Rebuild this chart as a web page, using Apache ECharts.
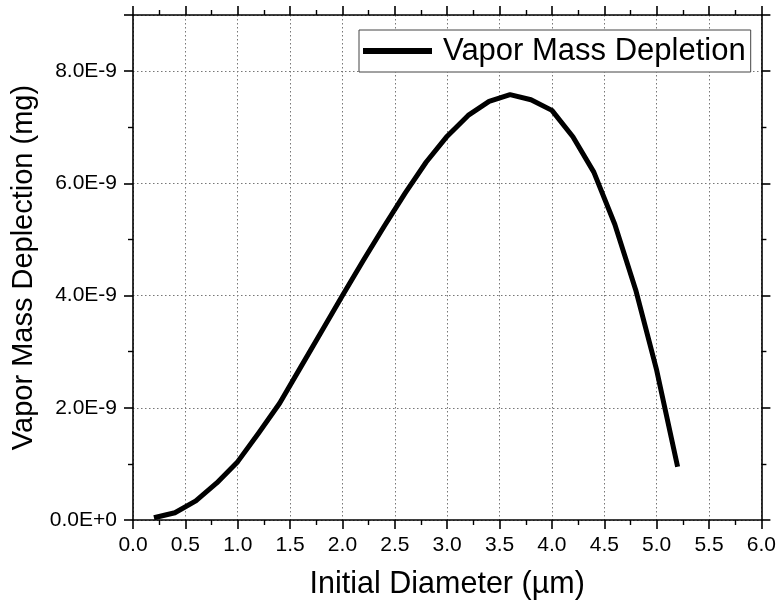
<!DOCTYPE html>
<html>
<head>
<meta charset="utf-8">
<script src="https://cdn.jsdelivr.net/npm/echarts@6/dist/echarts.min.js"></script>
<style>html,body{margin:0;padding:0;background:#fff;}#chart{width:779px;height:610px;}</style>
</head>
<body>
<div id="chart"></div>
<script>
// Data (y values in units of 1E-9 mg)
const xValues = [0.2,0.4,0.6,0.8,1.0,1.2,1.4,1.6,1.8,2.0,2.2,2.4,2.6,2.8,3.0,3.2,3.4,3.6,3.8,4.0,4.2,4.4,4.6,4.8,5.0,5.2];
const yValuesE9 = [0.04,0.13,0.34,0.66,1.04,1.55,2.08,2.72,3.36,4.0,4.63,5.24,5.83,6.38,6.84,7.21,7.46,7.58,7.49,7.30,6.83,6.20,5.27,4.10,2.67,0.95];
const xTickLabels = ['0.0','0.5','1.0','1.5','2.0','2.5','3.0','3.5','4.0','4.5','5.0','5.5','6.0'];
const yTickLabels = ['0.0E+0','2.0E-9','4.0E-9','6.0E-9','8.0E-9'];
const seriesName = 'Vapor Mass Depletion';

const FONT = 'Arial, "Liberation Sans", sans-serif';
const chart = echarts.init(document.getElementById('chart'));
const axisLine = {show:true, onZero:false, lineStyle:{color:'#000', width:1.6}};
const axisTick = {show:true, inside:false, length:9, lineStyle:{color:'#000', width:1.6}};
const minorTick = {show:true, splitNumber:2, length:5, lineStyle:{color:'#000', width:1.4}};
const gridLine = {show:true, lineStyle:{color:'#777', type:[1.5,2.5], width:1}};

chart.setOption({
  backgroundColor:'#fff',
  animation:false,
  grid:{left:133, right:16, top:15, bottom:90, containLabel:false},
  legend:{
    left:359, top:30, padding:[5,5,5,4],
    borderColor:'#444', borderWidth:1, backgroundColor:'#fff',
    icon:'rect', itemWidth:69, itemHeight:6,
    itemStyle:{color:'#000'},
    textStyle:{fontFamily:FONT, fontSize:31, color:'#000', lineHeight:32, padding:[0,0,0,6]},
    data:[seriesName]
  },
  xAxis:[{
    type:'value', min:0, max:6, interval:0.5, position:'bottom',
    name:'Initial Diameter (µm)', nameLocation:'middle', nameGap:49,
    nameTextStyle:{fontFamily:FONT, fontSize:30.5, color:'#000'},
    axisLine, axisTick, minorTick,
    axisLabel:{fontFamily:FONT, fontSize:21, color:'#000', margin:15,
      formatter:(v)=>{const i=Math.round(v/0.5); return xTickLabels[i]||'';}},
    splitLine:gridLine
  },{
    type:'value', min:0, max:6, interval:0.5, position:'top',
    axisLine, axisTick, minorTick, axisLabel:{show:false}, splitLine:{show:false}
  }],
  yAxis:[{
    type:'value', min:0, max:9, interval:2, position:'left',
    name:'Vapor Mass Deplection (mg)', nameLocation:'middle', nameGap:88,
    nameTextStyle:{fontFamily:FONT, fontSize:29, color:'#000'},
    axisLine, axisTick, minorTick,
    axisLabel:{fontFamily:FONT, fontSize:21, color:'#000', margin:16,
      formatter:(v)=>{const i=v/2; return Math.abs(i-Math.round(i))<1e-6 ? (yTickLabels[Math.round(i)]||'') : '';}},
    splitLine:gridLine
  },{
    type:'value', min:0, max:9, interval:2, position:'right',
    axisLine, axisTick, minorTick, axisLabel:{show:false}, splitLine:{show:false}
  }],
  series:[{
    name:seriesName, type:'line', xAxisIndex:0, yAxisIndex:0,
    symbol:'none', smooth:false,
    lineStyle:{color:'#000', width:5, join:'round'},
    itemStyle:{color:'#000'},
    data:xValues.map((x,i)=>[x, yValuesE9[i]])
  }]
});
</script>
</body>
</html>
